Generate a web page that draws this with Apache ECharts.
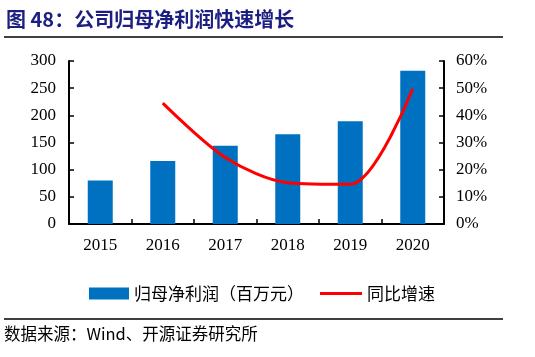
<!DOCTYPE html>
<html><head><meta charset="utf-8">
<script src="https://cdn.jsdelivr.net/npm/echarts@6/dist/echarts.min.js"></script>
<style>html,body{margin:0;padding:0;background:#fff}#c{width:535px;height:357px}</style>
</head><body><div id="c"></div>
<script>
const categories = ['2015','2016','2017','2018','2019','2020'];
const profit = [80, 116, 144, 165, 189, 282];
const growth = [null, 44.5, 24.5, 15.2, 14.6, 49.8];
const leftTicks = [0,50,100,150,200,250,300];
const rightTicks = ['0%','10%','20%','30%','40%','50%','60%'];
const titleText = '图 48：公司归母净利润快速增长';
const sourceText = '数据来源：Wind、开源证券研究所';
const seriesNames = ['归母净利润（百万元）','同比增速'];

const serif = '"Liberation Serif","DejaVu Serif",serif';
const cjk = '"Noto Sans CJK SC",sans-serif';
const chart = echarts.init(document.getElementById('c'), null, {renderer:'canvas'});
chart.setOption({
  animation:false,
  backgroundColor:'#fff',
  grid:{left:69,right:91,top:61,bottom:133},
  legend:[{
    left:84, top:280, itemGap:10, itemWidth:40, itemHeight:12, icon:'rect',
    textStyle:{fontFamily:cjk,fontSize:17,color:'#000'},
    data:[seriesNames[0]]
  },{
    left:315, top:280, itemGap:10, itemWidth:42, itemHeight:3, icon:'rect',
    textStyle:{fontFamily:cjk,fontSize:17,color:'#000'},
    data:[seriesNames[1]]
  }],
  xAxis:{
    type:'category', data:categories,
    axisLine:{lineStyle:{color:'#000',width:2}},
    axisTick:{show:true,inside:true,length:5,lineStyle:{color:'#000',width:1.5}},
    axisLabel:{fontFamily:serif,fontSize:17,color:'#000',margin:13}
  },
  yAxis:[{
    type:'value', min:0, max:300, interval:50,
    axisLine:{show:true,lineStyle:{color:'#000',width:2}},
    axisTick:{show:true,inside:true,length:5,lineStyle:{color:'#000',width:1.5}},
    splitLine:{show:false},
    axisLabel:{fontFamily:serif,fontSize:17,color:'#000',margin:13}
  },{
    type:'value', min:0, max:60, interval:10,
    axisLine:{show:true,lineStyle:{color:'#000',width:2}},
    axisTick:{show:true,inside:true,length:5,lineStyle:{color:'#000',width:1.5}},
    splitLine:{show:false},
    axisLabel:{fontFamily:serif,fontSize:17,color:'#000',margin:12,formatter:v=>v+'%'}
  }],
  series:[{
    name:seriesNames[0], type:'bar', data:profit, barWidth:25,
    itemStyle:{color:'#0070C0'}
  },{
    name:seriesNames[1], type:'line', yAxisIndex:1, data:growth, smooth:0.3,
    symbol:'none', lineStyle:{color:'#FF0000',width:3}, itemStyle:{color:'#FF0000'}
  }],
  graphic:[
    {type:'text',left:6,top:9,style:{text:titleText,font:'bold 20px '+cjk,fill:'#1C1F80'}},
    {type:'line',shape:{x1:4,y1:37,x2:503,y2:37},style:{stroke:'#000',lineWidth:1.5}},
    {type:'line',shape:{x1:4,y1:319,x2:503,y2:319},style:{stroke:'#000',lineWidth:1.5}},
    {type:'text',left:4,top:325,style:{text:sourceText,font:'16.5px '+cjk,fill:'#000'}}
  ]
});
</script></body></html>
